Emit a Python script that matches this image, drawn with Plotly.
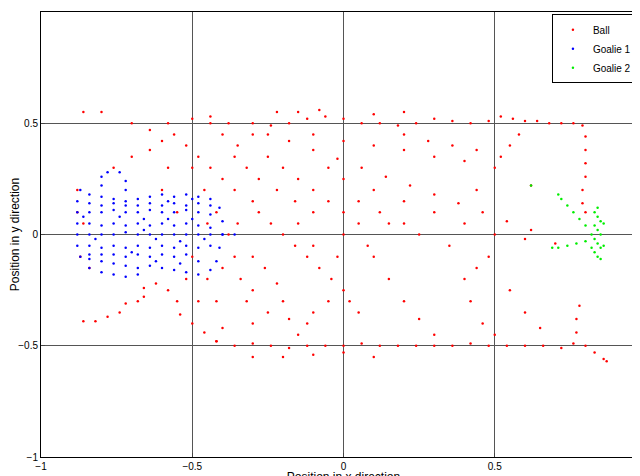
import plotly.graph_objects as go

# Ball positions
ball_top = [(-0.5, 0.52), (-0.44, 0.53), (-0.38, 0.5), (-0.3, 0.5), (-0.24, 0.49), (-0.18, 0.5), (-0.12, 0.52),
            (-0.06, 0.53), (0.0, 0.52), (0.06, 0.5), (0.12, 0.5), (0.18, 0.49), (0.24, 0.5), (0.3, 0.52),
            (0.36, 0.51), (0.42, 0.5), (0.48, 0.51), (0.52, 0.53), (0.56, 0.52), (0.6, 0.51), (0.64, 0.51),
            (0.68, 0.5), (0.72, 0.5), (0.76, 0.5), (0.79, 0.49), (0.8, 0.44), (0.8, 0.38), (0.8, 0.32),
            (0.8, 0.26), (0.79, 0.2), (0.79, 0.14), (0.8, 0.1), (-0.8, 0.55), (-0.86, 0.55), (-0.7, 0.5),
            (-0.64, 0.47), (-0.58, 0.5), (-0.22, 0.55), (-0.15, 0.55), (-0.08, 0.56), (0.2, 0.55), (0.1, 0.54)]
ball_bottom = [(-0.42, -0.48), (-0.36, -0.5), (-0.3, -0.49), (-0.24, -0.5), (-0.18, -0.51), (-0.12, -0.5),
               (-0.06, -0.5), (0.0, -0.5), (0.06, -0.49), (0.12, -0.5), (0.18, -0.5), (0.24, -0.5),
               (0.3, -0.5), (0.36, -0.5), (0.42, -0.49), (0.48, -0.5), (0.54, -0.5), (0.6, -0.5),
               (0.66, -0.5), (0.72, -0.51), (0.76, -0.49), (0.77, -0.44), (0.77, -0.38), (0.78, -0.32),
               (0.8, -0.5), (0.83, -0.53), (0.86, -0.56), (0.87, -0.57), (-0.3, -0.55), (-0.2, -0.55),
               (-0.1, -0.54), (0.0, -0.53), (0.1, -0.55), (0.5, -0.45), (0.46, -0.4), (0.42, -0.3)]
ball_left = [(-0.86, -0.39), (-0.82, -0.39), (-0.78, -0.37), (-0.74, -0.35), (-0.72, -0.31), (-0.68, -0.3),
             (-0.66, -0.28), (-0.66, -0.24), (-0.62, -0.22), (-0.58, -0.25), (-0.55, -0.3), (-0.54, -0.36),
             (-0.5, -0.4), (-0.46, -0.44), (-0.42, -0.48), (-0.88, 0.2), (-0.88, 0.1), (-0.87, -0.1),
             (-0.86, 0.05), (-0.84, -0.15), (-0.76, 0.3), (-0.7, 0.35), (-0.64, 0.38), (-0.6, 0.42),
             (-0.56, 0.45), (-0.52, 0.4), (-0.48, 0.35), (-0.44, 0.3), (-0.4, 0.25), (-0.36, 0.2)]
ball_mid = [(-0.5, 0.3), (-0.46, 0.2), (-0.42, 0.1), (-0.38, 0.0), (-0.36, -0.1), (-0.34, -0.2), (-0.32, -0.3),
            (-0.3, -0.4), (-0.45, -0.2), (-0.42, -0.3), (-0.4, -0.42), (-0.5, -0.1), (-0.52, -0.2),
            (-0.55, 0.1), (-0.6, 0.2), (-0.58, 0.3), (-0.35, 0.4), (-0.3, 0.45), (-0.25, 0.35), (-0.2, 0.3),
            (-0.15, 0.25), (-0.1, 0.2), (-0.05, 0.15), (0.0, 0.1), (0.05, 0.05), (-0.28, 0.1), (-0.24, 0.05),
            (-0.2, 0.0), (-0.16, -0.05), (-0.12, -0.1), (-0.08, -0.15), (-0.04, -0.2), (0.0, -0.25),
            (0.02, -0.3), (0.05, -0.35), (-0.3, -0.1), (-0.26, -0.15), (-0.22, -0.22), (-0.2, -0.3),
            (-0.18, -0.38), (-0.15, -0.45), (-0.28, 0.25), (-0.22, 0.2), (-0.16, 0.15), (-0.1, 0.1),
            (-0.32, 0.3), (-0.36, 0.35), (-0.4, 0.45), (-0.44, 0.5), (-0.3, -0.25), (-0.25, -0.35),
            (-0.4, -0.15), (-0.35, 0.05), (-0.3, 0.15), (-0.45, 0.05), (-0.48, -0.3), (-0.25, 0.45),
            (-0.18, 0.42), (-0.1, 0.38), (-0.02, 0.34), (0.06, 0.3), (0.14, 0.26), (0.22, 0.22), (0.3, 0.18),
            (0.38, 0.14), (0.46, 0.1), (0.54, 0.06), (0.62, 0.02), (0.7, -0.04), (-0.1, 0.45), (0.0, 0.42),
            (0.1, 0.4), (0.2, 0.38), (0.3, 0.35), (0.4, 0.33), (0.1, 0.2), (0.2, 0.15), (0.3, 0.1),
            (0.4, 0.05), (0.5, 0.0), (0.6, -0.02), (0.1, -0.1), (0.15, -0.2), (0.2, -0.3), (0.25, -0.38),
            (0.3, -0.45), (0.2, 0.45), (0.28, 0.42), (0.36, 0.4), (0.44, 0.38), (-0.05, 0.3), (0.0, 0.25),
            (0.05, 0.15), (0.15, 0.05), (0.25, 0.0), (0.35, -0.05), (-0.15, 0.05), (-0.1, -0.05),
            (-0.05, -0.3), (-0.1, -0.35), (-0.12, -0.4), (0.12, 0.1), (0.2, 0.05), (0.58, 0.45), (0.55, 0.4),
            (0.52, 0.35), (0.5, 0.3), (0.62, 0.22), (0.44, 0.2), (0.0, 0.0), (-0.02, -0.1), (0.08, -0.05),
            (0.4, -0.2), (0.44, -0.15), (0.48, -0.1), (0.55, -0.25), (0.6, -0.35), (0.65, -0.42)]
goalie1 = [(-0.87, 0.2), (-0.84, 0.18), (-0.8, 0.17), (-0.76, 0.16), (-0.72, 0.15), (-0.68, 0.16), (-0.64, 0.17),
           (-0.6, 0.18), (-0.56, 0.17), (-0.52, 0.18), (-0.48, 0.17), (-0.44, 0.16), (-0.41, 0.12),
           (-0.4, 0.06), (-0.4, 0.0), (-0.41, -0.06), (-0.42, -0.12), (-0.44, -0.16), (-0.48, -0.18),
           (-0.52, -0.17), (-0.56, -0.16), (-0.6, -0.15), (-0.64, -0.14), (-0.68, -0.15), (-0.72, -0.14),
           (-0.76, -0.13), (-0.8, -0.12), (-0.84, -0.11), (-0.87, -0.1), (-0.88, -0.05), (-0.88, 0.0),
           (-0.88, 0.05), (-0.88, 0.1), (-0.88, 0.15), (-0.84, 0.1), (-0.8, 0.1), (-0.76, 0.11),
           (-0.72, 0.1), (-0.68, 0.1), (-0.64, 0.11), (-0.6, 0.1), (-0.56, 0.1), (-0.52, 0.11),
           (-0.48, 0.1), (-0.44, 0.09), (-0.84, 0.05), (-0.8, 0.04), (-0.76, 0.05), (-0.72, 0.04),
           (-0.68, 0.05), (-0.64, 0.04), (-0.6, 0.05), (-0.56, 0.04), (-0.52, 0.05), (-0.48, 0.04),
           (-0.44, 0.03), (-0.84, 0.0), (-0.8, 0.0), (-0.76, 0.0), (-0.72, 0.01), (-0.68, 0.0),
           (-0.64, 0.0), (-0.6, 0.0), (-0.56, 0.0), (-0.52, 0.0), (-0.48, 0.0), (-0.44, 0.0),
           (-0.4, 0.0), (-0.36, 0.0), (-0.84, -0.05), (-0.8, -0.06), (-0.76, -0.05), (-0.72, -0.06),
           (-0.68, -0.05), (-0.64, -0.06), (-0.6, -0.05), (-0.56, -0.06), (-0.52, -0.05), (-0.48, -0.06),
           (-0.44, -0.05), (-0.84, 0.14), (-0.8, 0.13), (-0.76, 0.14), (-0.72, 0.13), (-0.68, 0.13),
           (-0.64, 0.14), (-0.6, 0.13), (-0.56, 0.14), (-0.52, 0.13), (-0.48, 0.14), (-0.44, 0.13),
           (-0.84, -0.09), (-0.8, -0.09), (-0.76, -0.09), (-0.72, -0.1), (-0.68, -0.09), (-0.64, -0.1),
           (-0.6, -0.09), (-0.56, -0.1), (-0.52, -0.09), (-0.48, -0.12), (-0.84, -0.15), (-0.8, -0.17),
           (-0.76, -0.18), (-0.72, -0.19), (-0.68, -0.18), (-0.8, 0.22), (-0.8, 0.26), (-0.78, 0.28),
           (-0.74, 0.28), (-0.72, 0.24), (-0.72, 0.2), (-0.66, 0.07), (-0.58, 0.07), (-0.5, 0.07),
           (-0.62, -0.02), (-0.54, -0.03), (-0.46, -0.02), (-0.7, -0.08), (-0.62, -0.12), (-0.54, -0.13),
           (-0.58, 0.15), (-0.5, 0.16), (-0.66, 0.02), (-0.74, 0.08), (-0.82, -0.02), (-0.86, 0.08)]
goalie2 = [(0.84, 0.12), (0.83, 0.1), (0.84, 0.08), (0.85, 0.06), (0.83, 0.04), (0.84, 0.02), (0.85, 0.0),
           (0.83, -0.02), (0.84, -0.04), (0.85, -0.06), (0.83, -0.08), (0.84, -0.1), (0.85, -0.11),
           (0.86, 0.05), (0.82, 0.0), (0.86, -0.05), (0.82, -0.06), (0.8, 0.04), (0.78, 0.07), (0.76, 0.1),
           (0.74, 0.13), (0.72, 0.16), (0.71, 0.18), (0.8, -0.03), (0.77, -0.04), (0.74, -0.05),
           (0.71, -0.06), (0.69, -0.06), (0.62, 0.22)]


def xs(pts):
    return [p[0] for p in pts]


def ys(pts):
    return [p[1] for p in pts]


ball = ball_top + ball_bottom + ball_left + ball_mid

fig = go.Figure()
fig.add_trace(go.Scatter(x=xs(ball), y=ys(ball), mode='markers', name='Ball',
                         marker=dict(color='red', size=2.5)))
fig.add_trace(go.Scatter(x=xs(goalie1), y=ys(goalie1), mode='markers', name='Goalie 1',
                         marker=dict(color='blue', size=2.5)))
fig.add_trace(go.Scatter(x=xs(goalie2), y=ys(goalie2), mode='markers', name='Goalie 2',
                         marker=dict(color='#00ee00', size=2.5)))

axis = dict(range=[-1, 1], dtick=0.5, showgrid=True, gridcolor='#555', gridwidth=1, zeroline=False,
            showline=True, mirror=True, linecolor='black', ticks='inside', ticklen=4,
            tickfont=dict(size=10), tickformat='~g', automargin=False)
fig.update_layout(
    width=640, height=476, plot_bgcolor='white', paper_bgcolor='white',
    font=dict(family='Liberation Sans, Arial', size=10, color='black'),
    margin=dict(l=33, r=2, t=4, b=27, autoexpand=False),
    xaxis=dict(axis, title=dict(text='Position in x direction', standoff=0)),
    yaxis=dict(axis, title=dict(text='Position in y direction', standoff=0)),
    legend=dict(x=0.985, y=0.995, xanchor='right', yanchor='top', bgcolor='white',
                bordercolor='black', borderwidth=1, font=dict(size=10), itemwidth=30),
)
fig.write_html("out.html")
